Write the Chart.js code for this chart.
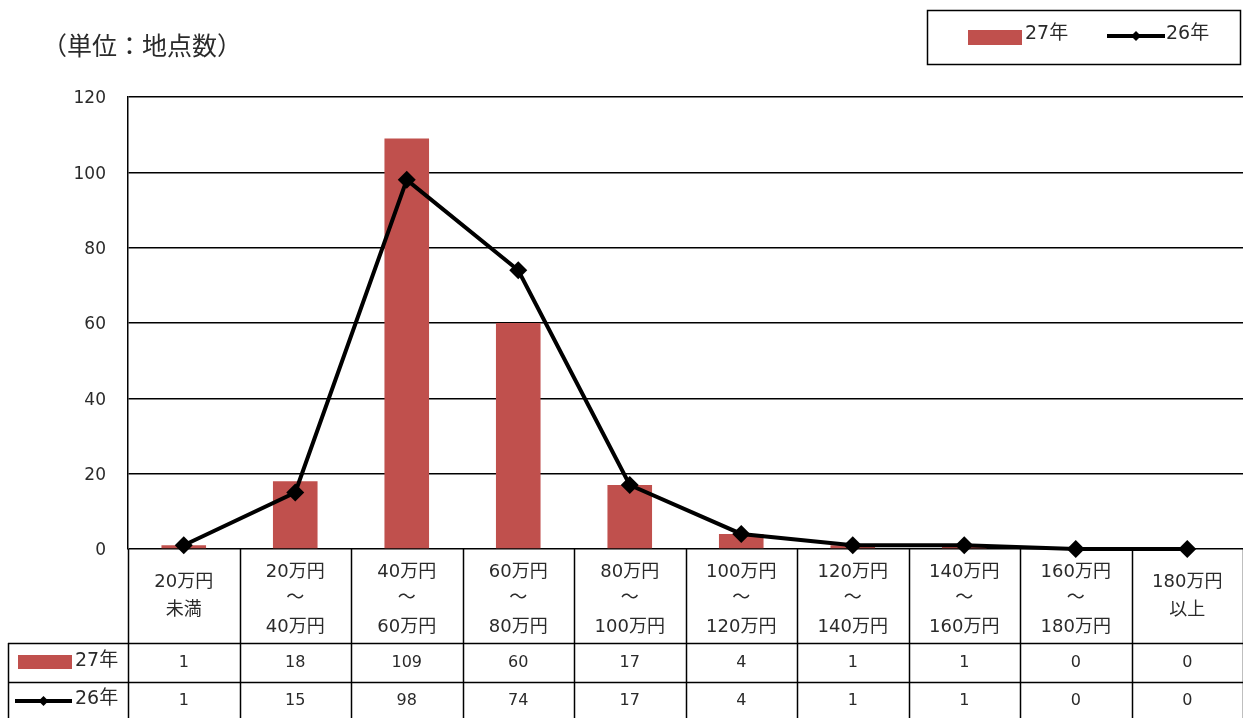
<!DOCTYPE html>
<html>
<head>
<meta charset="utf-8">
<script src="https://cdn.jsdelivr.net/npm/chart.js@4/dist/chart.umd.min.js"></script>
<style>
  html, body { margin: 0; padding: 0; background: #fff; overflow: hidden; }
  /* 右端の点のはみ出し分だけ広げて、プロット領域を画面の右端まで伸ばす */
  #wrap { width: 1252px; height: 718px; position: relative; }
  canvas { display: block; }
</style>
</head>
<body>
<div id="wrap"><canvas id="landChart"></canvas></div>
<script>
// 価格帯ごとの地点数
const categories = [
  ['20万円', '未満'],
  ['20万円', '～', '40万円'],
  ['40万円', '～', '60万円'],
  ['60万円', '～', '80万円'],
  ['80万円', '～', '100万円'],
  ['100万円', '～', '120万円'],
  ['120万円', '～', '140万円'],
  ['140万円', '～', '160万円'],
  ['160万円', '～', '180万円'],
  ['180万円', '以上']
];
const seriesNames = ['27年', '26年'];
const values27 = [1, 18, 109, 60, 17, 4, 1, 1, 0, 0];
const values26 = [1, 15, 98, 74, 17, 4, 1, 1, 0, 0];
const yTicks = [0, 20, 40, 60, 80, 100, 120];

const BAR_COLOR = '#C0504D';
const FONT = '"DejaVu Sans", "Noto Sans CJK JP", sans-serif';
const TEXT = '#2a2a2a';

function drawDiamond(ctx, x, y, r) {
  ctx.beginPath();
  ctx.moveTo(x, y - r);
  ctx.lineTo(x + r, y);
  ctx.lineTo(x, y + r);
  ctx.lineTo(x - r, y);
  ctx.closePath();
  ctx.fill();
}

function drawLineSymbol(ctx, x1, x2, y) {
  ctx.save();
  ctx.strokeStyle = '#000';
  ctx.fillStyle = '#000';
  ctx.lineWidth = 4;
  ctx.beginPath();
  ctx.moveTo(x1, y);
  ctx.lineTo(x2, y);
  ctx.stroke();
  drawDiamond(ctx, (x1 + x2) / 2, y, 5);
  ctx.restore();
}

// 単位表示と凡例
const titleLegend = {
  id: 'titleLegend',
  afterDraw(chart) {
    const ctx = chart.ctx;
    ctx.save();
    ctx.fillStyle = TEXT;
    ctx.font = '25px ' + FONT;
    ctx.textBaseline = 'middle';
    ctx.textAlign = 'left';
    ctx.fillText('（単位：地点数）', 42, 48);

    ctx.strokeStyle = '#000';
    ctx.lineWidth = 1.5;
    ctx.strokeRect(927.5, 10.5, 313, 54);
    ctx.fillStyle = BAR_COLOR;
    ctx.fillRect(968, 30, 54, 15);
    drawLineSymbol(ctx, 1107, 1165, 36);
    ctx.fillStyle = TEXT;
    ctx.font = '19px ' + FONT;
    ctx.fillText(seriesNames[0], 1025, 34);
    ctx.fillText(seriesNames[1], 1166, 34);
    ctx.restore();
  }
};

// 下部のデータ表
const dataTable = {
  id: 'dataTable',
  beforeDatasetsDraw(chart) {
    const ctx = chart.ctx;
    const area = chart.chartArea;
    const x = chart.scales.x;
    const n = chart.data.labels.length;
    const step = (area.right - area.left) / n;
    const headBottom = 643, row1Bottom = 682, tableBottom = 720, tableLeft = 8;

    ctx.save();
    ctx.strokeStyle = '#000';
    ctx.lineWidth = 1.5;
    ctx.beginPath();
    // 縦線
    for (let i = 0; i <= n; i++) {
      const px = Math.round(area.left + i * step) + 0.5;
      ctx.moveTo(px, area.bottom);
      ctx.lineTo(px, tableBottom);
    }
    ctx.moveTo(tableLeft + 0.5, headBottom);
    ctx.lineTo(tableLeft + 0.5, tableBottom);
    // 横線
    ctx.moveTo(tableLeft, headBottom + 0.5);
    ctx.lineTo(area.right, headBottom + 0.5);
    ctx.moveTo(tableLeft, row1Bottom + 0.5);
    ctx.lineTo(area.right, row1Bottom + 0.5);
    ctx.stroke();

    ctx.fillStyle = TEXT;
    ctx.textAlign = 'center';
    ctx.textBaseline = 'middle';
    ctx.font = '18px ' + FONT;
    chart.data.labels.forEach((lab, i) => {
      const cx = x.getPixelForValue(i);
      const ys = lab.length === 3 ? [572, 598, 627] : [582, 610];
      lab.forEach((t, j) => ctx.fillText(t, cx, ys[j]));
    });

    ctx.font = '16px ' + FONT;
    [values27, values26].forEach((vals, r) => {
      const cy = r === 0 ? 663 : 701;
      vals.forEach((v, i) => ctx.fillText(String(v), x.getPixelForValue(i), cy));
    });

    // 行見出し
    ctx.fillStyle = BAR_COLOR;
    ctx.fillRect(18, 655, 54, 14);
    drawLineSymbol(ctx, 15, 72, 701);
    ctx.fillStyle = TEXT;
    ctx.textAlign = 'left';
    ctx.font = '19px ' + FONT;
    ctx.fillText(seriesNames[0], 75, 661);
    ctx.fillText(seriesNames[1], 75, 699);
    ctx.restore();
  }
};

new Chart(document.getElementById('landChart'), {
  data: {
    labels: categories,
    datasets: [
      {
        type: 'line',
        label: seriesNames[1],
        data: values26,
        borderColor: '#000',
        backgroundColor: '#000',
        borderWidth: 4,
        pointStyle: 'rectRot',
        pointRadius: 9,
        pointBorderWidth: 0,
        tension: 0,
        clip: false,
        order: 0
      },
      {
        type: 'bar',
        label: seriesNames[0],
        data: values27,
        backgroundColor: BAR_COLOR,
        borderWidth: 0,
        barPercentage: 0.4,
        categoryPercentage: 1,
        order: 1
      }
    ]
  },
  options: {
    responsive: true,
    maintainAspectRatio: false,
    animation: false,
    layout: {
      padding: { top: 97, bottom: 169, left: 0, right: 0 }
    },
    plugins: {
      legend: { display: false },
      tooltip: { enabled: false }
    },
    scales: {
      x: {
        display: false,
        offset: true
      },
      y: {
        min: 0,
        max: 120,
        afterBuildTicks(scale) {
          scale.ticks = yTicks.map(v => ({ value: v }));
        },
        afterFit(scale) {
          scale.width = 128;
        },
        ticks: {
          color: TEXT,
          font: { family: FONT, size: 17 },
          padding: 22,
          labelOffset: 2
        },
        grid: {
          color: '#000',
          lineWidth: 1.5,
          drawTicks: false
        },
        border: { color: '#000', width: 1.5 }
      }
    }
  },
  plugins: [dataTable, titleLegend]
});
</script>
</body>
</html>
